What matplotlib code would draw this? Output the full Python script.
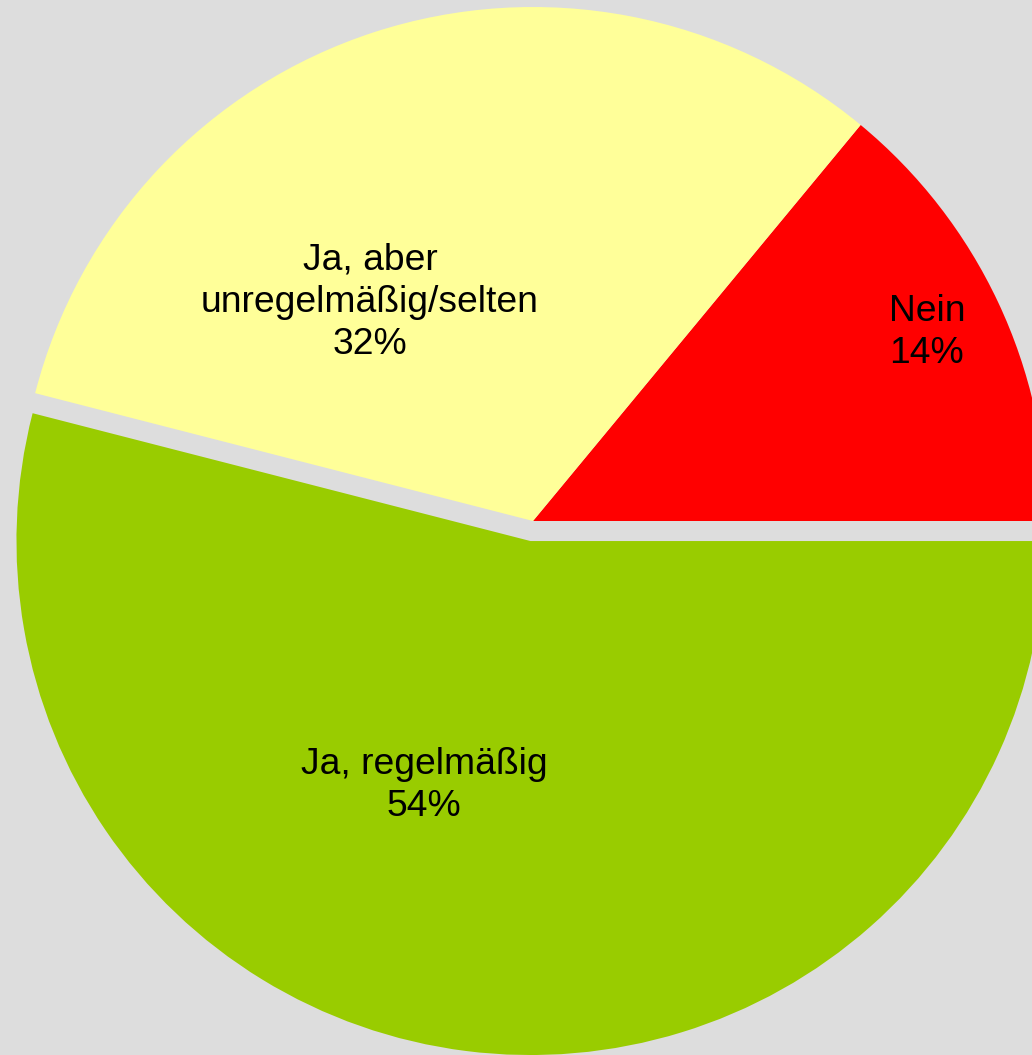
import matplotlib
matplotlib.use("Agg")
import matplotlib.pyplot as plt

# Data
categories = ["Nein", "Ja, aber\nunregelmäßig/selten", "Ja, regelmäßig"]
values = [14, 32, 54]
pct_labels = ["14%", "32%", "54%"]
colors = ["#FF0000", "#FFFF99", "#99CC00"]

W, H = 1032, 1055
fig = plt.figure(figsize=(W / 100, H / 100), dpi=100, facecolor="#DDDDDD")
ax = fig.add_axes([0, 0, 1, 1])
ax.set_facecolor("#DDDDDD")

cx, cy, R = 533, H - 521, 514
explode = [0, 0, 20.2]  # data units (pixels)
ax.pie(values, colors=colors, explode=explode, startangle=0, counterclock=True,
       center=(cx, cy), radius=R, frame=True,
       wedgeprops=dict(linewidth=0, antialiased=True))
ax.set_xlim(0, W)
ax.set_ylim(0, H)
ax.set_aspect("equal")
ax.axis("off")

font = dict(family=["Liberation Sans", "DejaVu Sans"], fontsize=26.8, color="black",
            ha="center", va="baseline", multialignment="center", linespacing=1.27)
# label positions (last-line baseline) in pixel coordinates
label_pos = [(927, 363), (370, 354), (424, 816)]
for cat, pct, (px, py) in zip(categories, pct_labels, label_pos):
    ax.text(px, H - py, f"{cat}\n{pct}", **font)

fig.savefig("out.png", dpi=100, facecolor="#DDDDDD")
